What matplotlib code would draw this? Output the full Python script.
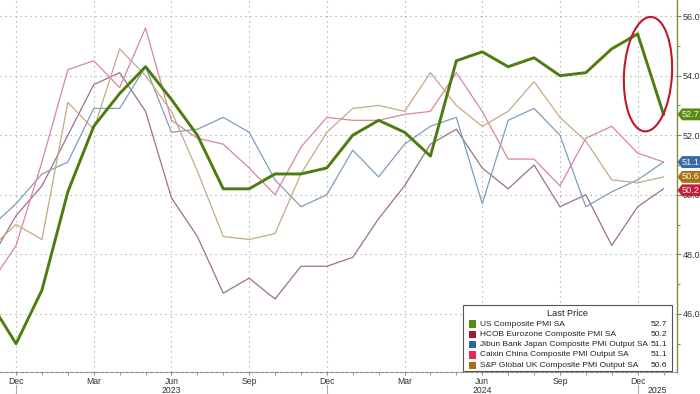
import matplotlib
matplotlib.use("Agg")
import matplotlib.pyplot as plt
import matplotlib.transforms as mtransforms
from matplotlib.patches import Ellipse, Rectangle, Polygon
import numpy as np

plt.rcParams['font.family'] = ['Liberation Sans', 'DejaVu Sans']

# month index: Dec 2022 = 0, Nov 2022 = -1 ... Jan 2025 = 25
months = np.arange(-1, 26)

us = [46.4, 45.0, 46.8, 50.1, 52.3, 53.4, 54.3, 53.2, 52.0, 50.2, 50.2, 50.7, 50.7, 50.9,
      52.0, 52.5, 52.1, 51.3, 54.5, 54.8, 54.3, 54.6, 54.0, 54.1, 54.9, 55.4, 52.7]
euro = [47.8, 49.3, 50.3, 52.0, 53.7, 54.1, 52.8, 49.9, 48.6, 46.7, 47.2, 46.5, 47.6, 47.6,
        47.9, 49.2, 50.3, 51.7, 52.2, 50.9, 50.2, 51.0, 49.6, 50.0, 48.3, 49.6, 50.2]
japan = [48.9, 49.7, 50.7, 51.1, 52.9, 52.9, 54.3, 52.1, 52.2, 52.6, 52.1, 50.5, 49.6, 50.0,
         51.5, 50.6, 51.7, 52.3, 52.6, 49.7, 52.5, 52.9, 52.0, 49.6, 50.1, 50.5, 51.1]
china = [47.0, 48.3, 51.1, 54.2, 54.5, 53.6, 55.6, 52.5, 51.9, 51.7, 50.9, 50.0, 51.6, 52.6,
         52.5, 52.5, 52.7, 52.8, 54.1, 52.8, 51.2, 51.2, 50.3, 51.9, 52.3, 51.4, 51.1]
uk = [48.2, 49.0, 48.5, 53.1, 52.2, 54.9, 54.0, 52.8, 50.8, 48.6, 48.5, 48.7, 50.7, 52.1,
      52.9, 53.0, 52.8, 54.1, 53.0, 52.3, 52.8, 53.8, 52.6, 51.8, 50.5, 50.4, 50.6]

names = ["US Composite PMI SA",
         "HCOB Eurozone Composite PMI SA",
         "Jibun Bank Japan Composite PMI Output SA",
         "Caixin China Composite PMI Output SA",
         "S&P Global UK Composite PMI Output SA"]
last_vals = ["52.7", "50.2", "51.1", "51.1", "50.6"]

tick_pos = [0, 3, 6, 9, 12, 15, 18, 21, 24]
tick_labels = ["Dec", "Mar", "Jun", "Sep", "Dec", "Mar", "Jun", "Sep", "Dec"]
year_pos = [6, 18, 24.75]
year_labels = ["2023", "2024", "2025"]
yticks = [46, 48, 50, 52, 54, 56]

# tag label values (slightly nudged where they would overlap)
tag_y = [52.7, 51.1, 50.6, 50.15]
tag_txt = ["52.7", "51.1", "50.6", "50.2"]
tag_cols = ['#5a8a14', '#3a6aa8', '#a87418', '#c0203c']

line_cols = ['#4d7c0f', '#9d6f8c', '#7f9dbf', '#d9869c', '#c4aa84']
key_cols = ['#5a8a14', '#9c1c3c', '#2f65a8', '#e8294e', '#a86d16']

fig = plt.figure(figsize=(7, 3.94), dpi=100)
ax = fig.add_axes([0, 22 / 394, 677 / 700, 372 / 394])

ax.plot(months, euro, color=line_cols[1], lw=0.9, zorder=3)
ax.plot(months, japan, color=line_cols[2], lw=0.9, zorder=3)
ax.plot(months, china, color=line_cols[3], lw=0.9, zorder=3)
ax.plot(months, uk, color=line_cols[4], lw=0.9, zorder=3)
ax.plot(months, us, color=line_cols[0], lw=2.1, zorder=4)

ax.set_xlim(-0.62, 25.52)
ax.set_ylim(44.05, 56.54)

ax.set_xticks(tick_pos)
ax.set_xticklabels(tick_labels)
ax.set_xticks(np.arange(0, 26), minor=True)
ax.set_yticks(yticks)
ax.set_yticklabels([f"{v:.1f}" for v in yticks])
ax.set_yticks(np.arange(45, 57, 1), minor=True)
ax.grid(True, which='major', color='#9a9a9a', linestyle=(0, (1, 3.5)), lw=0.8)
ax.set_axisbelow(True)

ax.yaxis.tick_right()
ax.tick_params(axis='y', which='major', length=3, width=0.8, color='#7d8f3c',
               labelsize=6.5, labelcolor='#333333', pad=1)
ax.tick_params(axis='y', which='minor', length=2, width=0.8, color='#7d8f3c')
ax.tick_params(axis='x', which='major', length=2.5, width=0.7, color='#888888',
               labelsize=6.2, labelcolor='#333333', pad=0.8)
ax.tick_params(axis='x', which='minor', length=2, width=0.6, color='#888888')

for s in ['left', 'top']:
    ax.spines[s].set_visible(False)
ax.spines['right'].set_color('#7d8f3c')
ax.spines['right'].set_linewidth(1.0)
ax.spines['bottom'].set_color('#8a8a8a')
ax.spines['bottom'].set_linestyle((0, (3, 1.5)))
ax.spines['bottom'].set_linewidth(0.8)

# year labels and separators
trans = mtransforms.blended_transform_factory(ax.transData, ax.transAxes)
for xp, lab in zip(year_pos, year_labels):
    ax.text(xp, -0.0505, lab, transform=trans, ha='center', va='center',
            fontsize=6.2, color='#333333')
for xp in [0, 12, 24]:
    ax.plot([xp, xp], [-0.035, -0.06], transform=trans, color='#aaaaaa',
            lw=0.8, clip_on=False)

# highlight ellipse
ax.add_patch(Ellipse((24.4, 54.05), 1.85, 3.85, angle=-4, fill=False,
                     edgecolor='#c0182a', lw=1.5, zorder=6))

# last value tags on the right axis
ttrans = mtransforms.blended_transform_factory(ax.transAxes, ax.transData)
for yv, txt, col in zip(tag_y, tag_txt, tag_cols):
    x0, x1, x2 = 677.5 / 677, 682 / 677, 700 / 677
    h = 0.2
    ax.add_patch(Polygon([(x0, yv), (x1, yv + h), (x2, yv + h), (x2, yv - h), (x1, yv - h)],
                         closed=True, transform=ttrans, fc=col, ec='none',
                         clip_on=False, zorder=7))
    ax.text(691 / 677, yv, txt, transform=ttrans, ha='center', va='center',
            fontsize=6.6, color='#f6f6ea', clip_on=False, zorder=8)

# legend box
lx0, lx1 = 463 / 677, 672 / 677
ly0, ly1 = 1 / 372, 67 / 372
ax.add_patch(Rectangle((lx0, ly0), lx1 - lx0, ly1 - ly0, transform=ax.transAxes,
                       fc='white', ec='#555555', lw=0.8, zorder=8))
ax.text((lx0 + lx1) / 2, (372 - 313) / 372, "Last Price", transform=ax.transAxes,
        ha='center', va='center', fontsize=6.6, color='#222222', zorder=9)
for i, (nm, val, kc) in enumerate(zip(names, last_vals, key_cols)):
    yy = (372 - (324 + i * 10.3)) / 372
    ax.add_patch(Rectangle((469 / 677, yy - 3.6 / 372), 7 / 677, 7.2 / 372,
                           transform=ax.transAxes, fc=kc, ec='none', zorder=9))
    ax.text(480 / 677, yy, nm, transform=ax.transAxes, ha='left', va='center',
            fontsize=6.0, color='#222222', zorder=9)
    ax.text(667 / 677, yy, val, transform=ax.transAxes, ha='right', va='center',
            fontsize=6.0, color='#222222', zorder=9)

fig.savefig("out.png", dpi=100)
